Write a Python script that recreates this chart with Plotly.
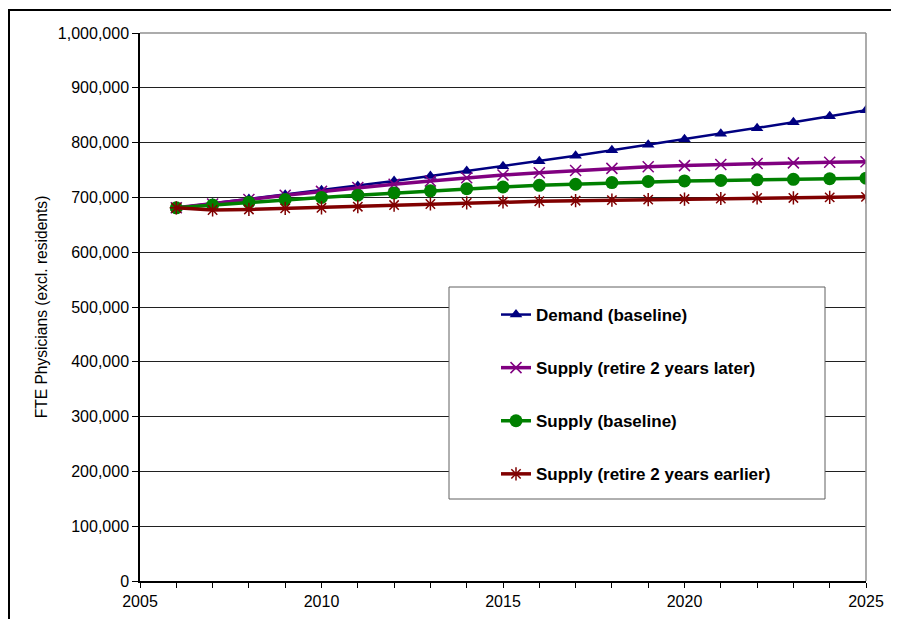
import plotly.graph_objects as go

years = list(range(2006, 2026))
demand_baseline = [681000, 689000, 697000, 705000, 713000, 721000, 730000, 739000, 748000, 757000,
                   766000, 776000, 786000, 796000, 806000, 816000, 826000, 837000, 848000, 859000]
supply_later = [681000, 688000, 696000, 704000, 711000, 718000, 724000, 730000, 736000, 741000,
                745000, 749000, 753000, 756000, 758000, 760000, 762000, 763000, 764000, 765000]
supply_baseline = [681000, 686000, 691000, 696000, 700000, 704000, 708000, 712000, 716000, 719000,
                   722000, 724000, 727000, 729000, 730000, 731000, 732000, 733000, 734000, 735000]
supply_earlier = [681000, 677000, 678000, 680000, 681000, 683000, 686000, 688000, 690000, 692000,
                  693000, 694000, 695000, 696000, 697000, 698000, 699000, 699000, 700000, 701000]

series_names = ["Demand (baseline)", "Supply (retire 2 years later)",
                "Supply (baseline)", "Supply (retire 2 years earlier)"]
y_tick_vals = [0, 100000, 200000, 300000, 400000, 500000, 600000, 700000, 800000, 900000, 1000000]
x_tick_vals = [2005, 2010, 2015, 2020, 2025]

FONT = "Arial, Liberation Sans, sans-serif"

fig = go.Figure()
fig.add_trace(go.Scatter(
    x=years, y=demand_baseline, name=series_names[0], mode="lines+markers",
    line=dict(color="#000080", width=2.5),
    marker=dict(symbol="triangle-up", size=11, color="#000080"),
    legendgroup="a"))
fig.add_trace(go.Scatter(
    x=years, y=supply_later, name=series_names[1], mode="lines+markers",
    line=dict(color="#800080", width=3.5),
    marker=dict(symbol="x-thin-open", size=11, color="#800080", line=dict(width=1.5, color="#800080")),
    legendgroup="b"))
fig.add_trace(go.Scatter(
    x=years, y=supply_baseline, name=series_names[2], mode="lines+markers",
    line=dict(color="#008000", width=3.5),
    marker=dict(symbol="circle", size=13, color="#008000"),
    legendgroup="c"))
fig.add_trace(go.Scatter(
    x=years, y=supply_earlier, name=series_names[3], mode="lines+markers",
    line=dict(color="#800000", width=3.5),
    marker=dict(symbol="asterisk-open", size=11, color="#800000", line=dict(width=1.5, color="#800000")),
    legendgroup="d"))

# page has an 8px body margin: figure starts at (8, 8) in the window
OFF = 8
W, H = 899 - OFF, 619 - OFF
L, R, T, B = 140 - OFF, 33, 33 - OFF, 38
pw, ph = W - L - R, H - T - B

def px(xp):
    return (xp - OFF - L) / pw

def py(yp):
    return (H - B - (yp - OFF)) / ph

shapes = [
    # outer chart border
    dict(type="rect", xref="paper", yref="paper", x0=px(9), x1=px(899 + 20), y0=py(619 + 20), y1=py(10),
         line=dict(color="black", width=2), fillcolor="rgba(0,0,0,0)", layer="below"),
    # plot area top and right borders (gray)
    dict(type="line", xref="paper", yref="paper", x0=0, x1=1, y0=1, y1=1,
         line=dict(color="#909090", width=1.5)),
    dict(type="line", xref="paper", yref="paper", x0=1, x1=1, y0=0, y1=1,
         line=dict(color="#909090", width=1.5)),
    # legend box
    dict(type="rect", xref="paper", yref="paper", x0=px(449), x1=px(825), y0=py(499), y1=py(287),
         line=dict(color="#606060", width=1), fillcolor="white", layer="above"),
]

TICKFONT = dict(family=FONT, size=16, color="black")

fig.update_layout(
    width=W, height=H,
    margin=dict(l=L, r=R, t=T, b=B, pad=0, autoexpand=False),
    paper_bgcolor="white", plot_bgcolor="white",
    font=dict(family=FONT, size=16, color="black"),
    showlegend=True,
    legend=dict(x=px(496), y=py(297), xanchor="left", yanchor="top",
                bgcolor="rgba(0,0,0,0)", borderwidth=0,
                font=dict(family=FONT, size=17, color="black", weight="bold"),
                tracegroupgap=28, itemwidth=30),
    shapes=shapes,
    xaxis=dict(range=[2005, 2025], tickmode="array", tickvals=x_tick_vals,
               ticks="outside", ticklen=5, tickcolor="black", tickwidth=1,
               minor=dict(dtick=1, tick0=2005, ticks="outside", ticklen=5, tickcolor="black", showgrid=False),
               showline=True, linecolor="black", linewidth=1.5, showgrid=False, zeroline=False,
               tickfont=TICKFONT),
    yaxis=dict(range=[0, 1000000], tickmode="array", tickvals=y_tick_vals, tickformat=",",
               ticks="outside", ticklen=6, tickcolor="black", tickwidth=1,
               showline=True, linecolor="black", linewidth=1.5,
               showgrid=True, gridcolor="#202020", gridwidth=1, zeroline=False,
               tickfont=TICKFONT,
               title=dict(text="FTE Physicians (excl. residents)", standoff=6,
                          font=dict(family=FONT, size=15.6))),
)

fig.write_html("out.html")
